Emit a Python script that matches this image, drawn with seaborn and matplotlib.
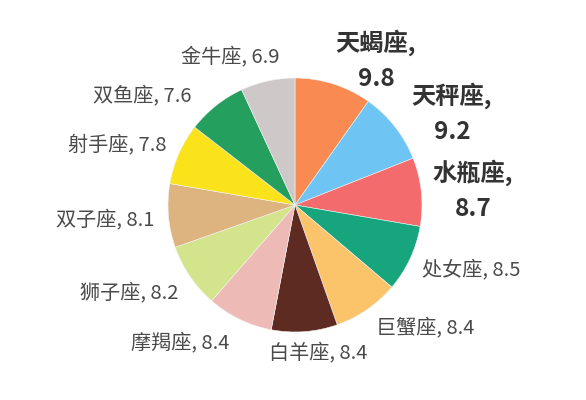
import matplotlib
matplotlib.use("Agg")
import matplotlib.pyplot as plt
import seaborn as sns

sns.set_theme(style="white")
plt.rcParams['font.family'] = ['Noto Sans CJK SC', 'DejaVu Sans']

signs = ["天蝎座", "天秤座", "水瓶座", "处女座", "巨蟹座", "白羊座",
         "摩羯座", "狮子座", "双子座", "射手座", "双鱼座", "金牛座"]
values = [9.8, 9.2, 8.7, 8.5, 8.4, 8.4, 8.4, 8.2, 8.1, 7.8, 7.6, 6.9]
colors = ["#F98A52", "#6EC5F3", "#F46B6D", "#17A57D", "#FBC46A", "#5E2B22",
          "#EDBAB6", "#D3E48C", "#DDB47F", "#FBE31C", "#259F5E", "#CFC8C9"]
bold_top = [True, True, True] + [False] * 9

# label centre positions in pixels (x, y from top) - layout only
label_pos = [(376, 60), (452, 113), (473, 190), (471, 270), (425, 328),
             (318, 353), (180, 343), (129, 293), (105, 220), (117, 145),
             (142, 96), (230, 57)]

W, H = 586, 400
fig = plt.figure(figsize=(W / 100, H / 100), dpi=100)
cx, cy, r = 295, 205, 127
ax = fig.add_axes([(cx - r) / W, (H - cy - r) / H, 2 * r / W, 2 * r / H])
ax.pie(values, colors=colors, startangle=90, counterclock=False,
       radius=1, wedgeprops=dict(linewidth=0.4, edgecolor="#f4f4f4"))
ax.set_xlim(-1, 1)
ax.set_ylim(-1, 1)
ax.set_aspect("equal")
ax.axis("off")

for name, v, b, (px, py) in zip(signs, values, bold_top, label_pos):
    if b:
        fig.text(px / W, 1 - py / H, f"{name},\n{v}", ha="center", va="center",
                 fontsize=17.5, fontweight="bold", color="#333333",
                 linespacing=1.55)
    else:
        fig.text(px / W, 1 - py / H, f"{name}, {v}", ha="center", va="center",
                 fontsize=14.5, color="#4a4a4a")

fig.savefig("out.png", dpi=100, facecolor="white")
